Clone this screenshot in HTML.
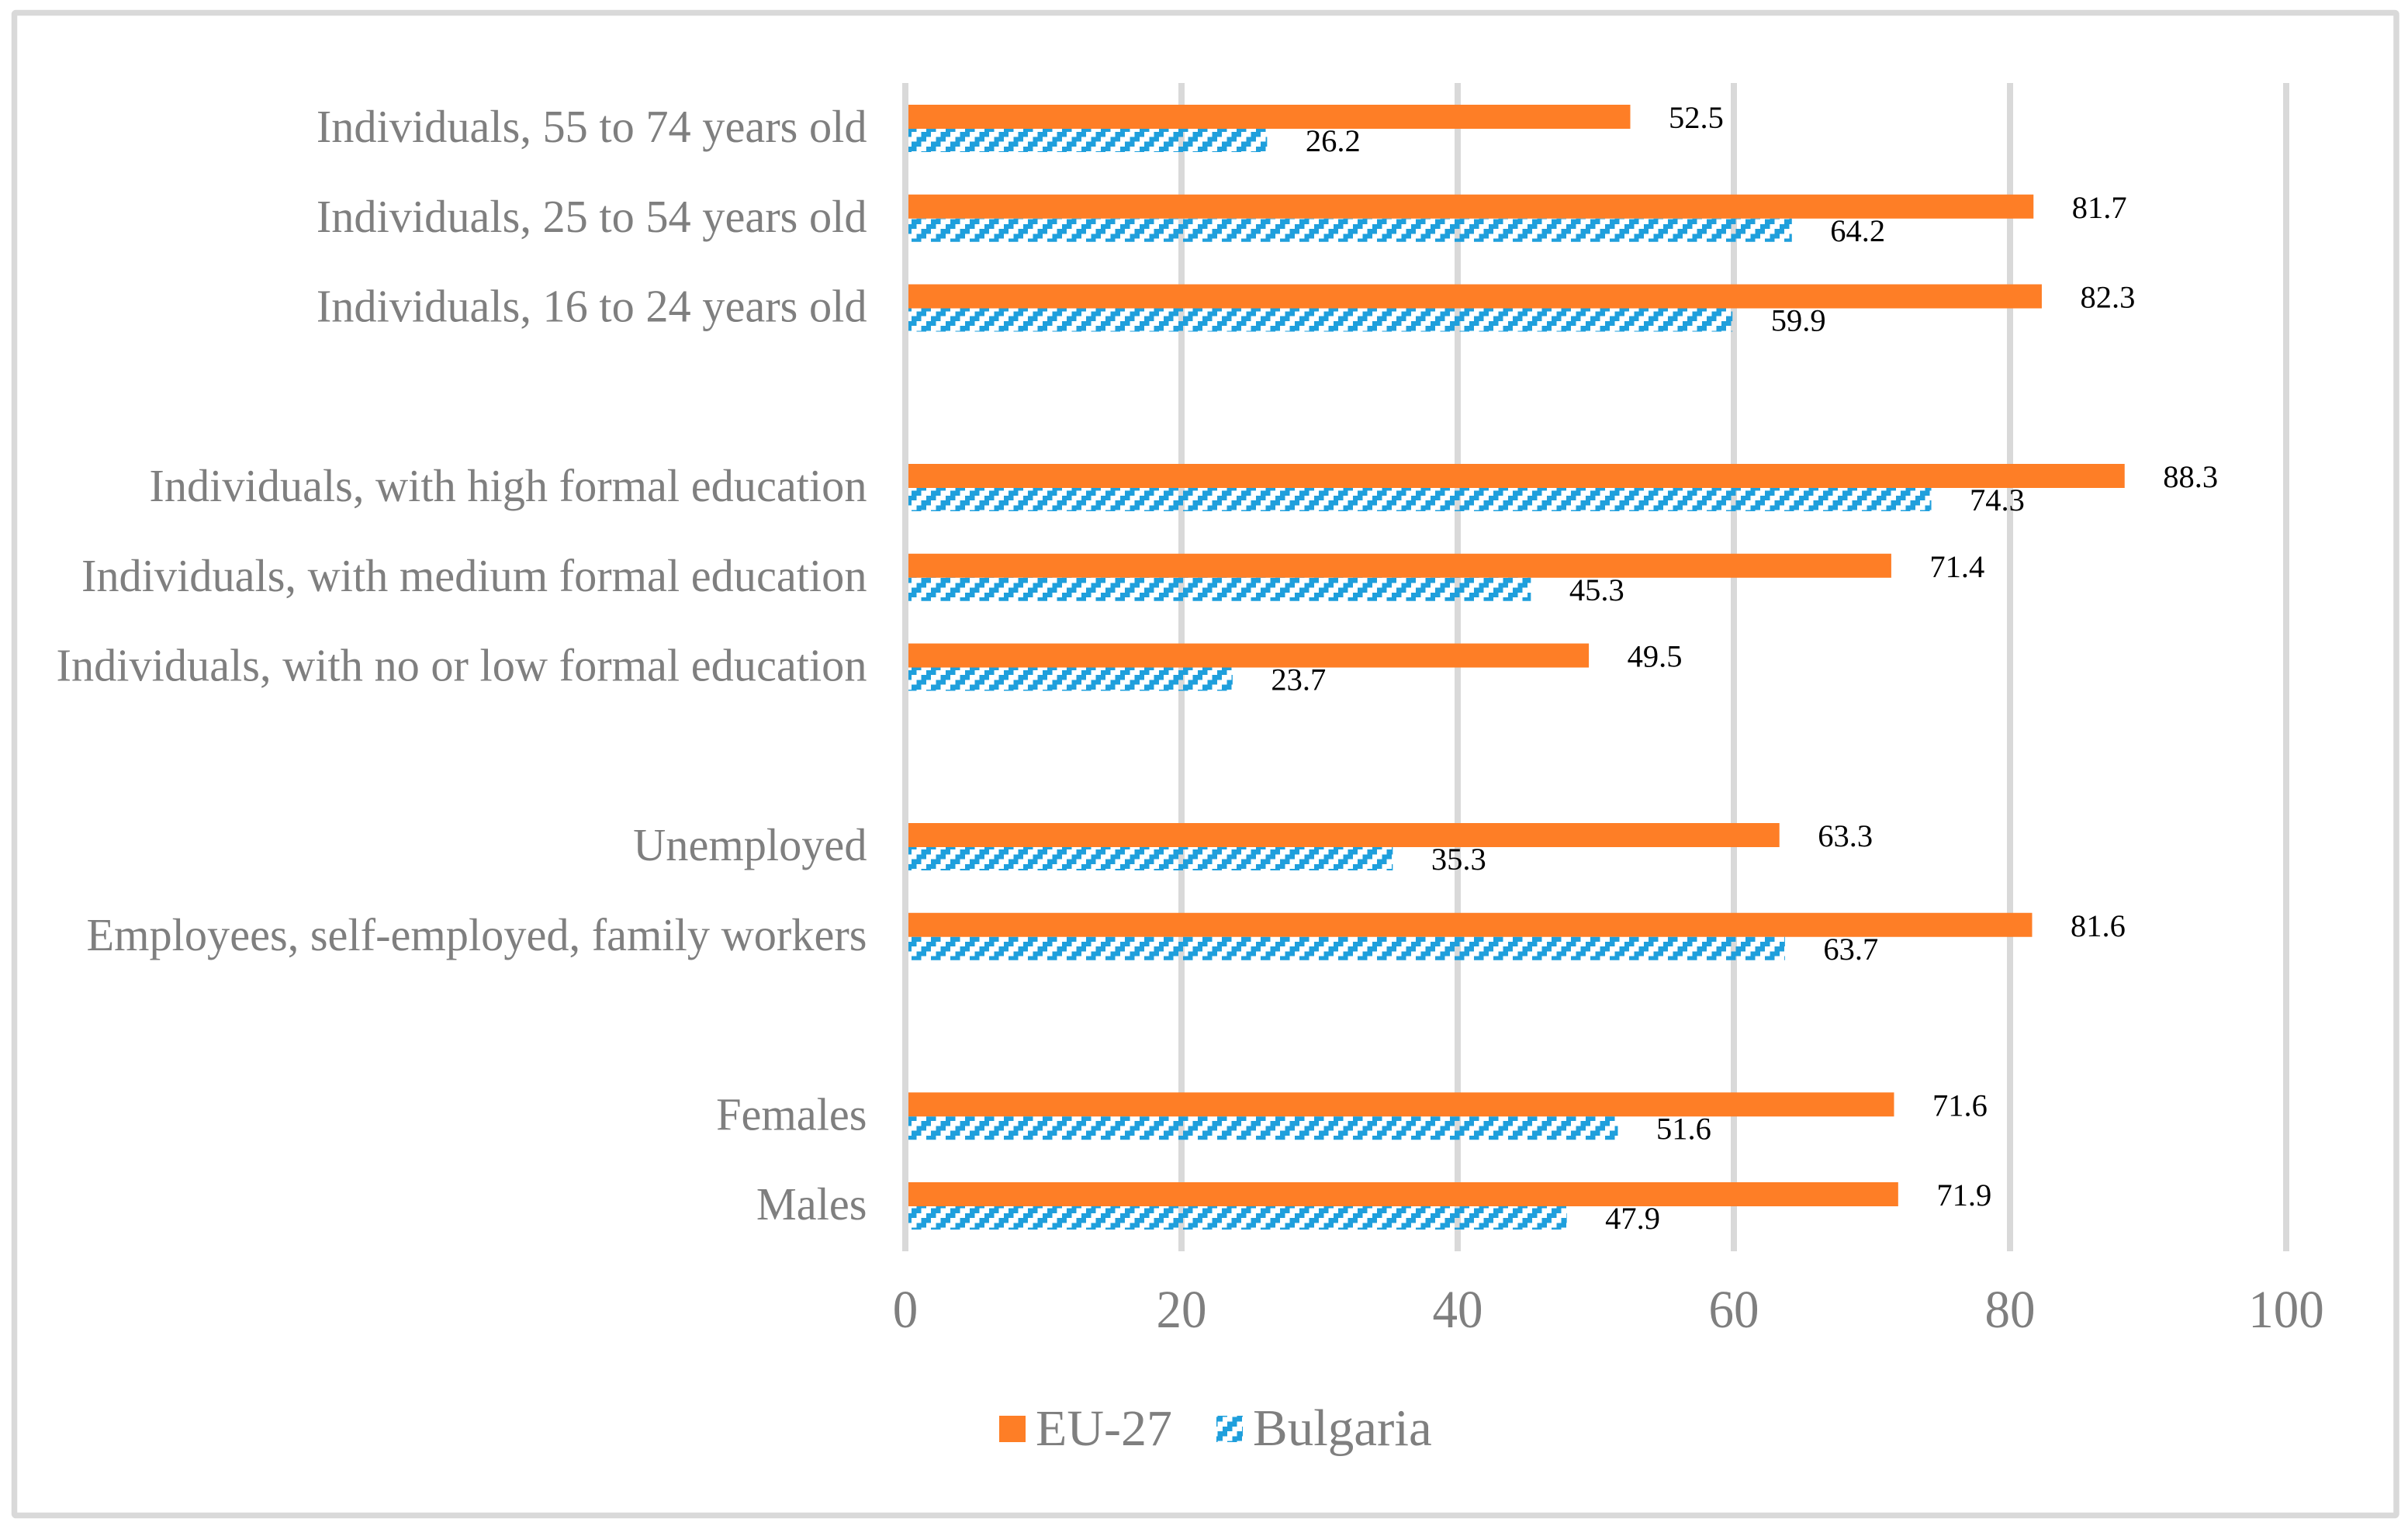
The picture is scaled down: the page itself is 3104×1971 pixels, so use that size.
<!DOCTYPE html>
<html lang="en">
<head>
<meta charset="utf-8">
<title>EU-27 and Bulgaria by individual group</title>
<style>
  html, body { margin: 0; padding: 0; background: #fff; }
  svg { display: block; }
  text { font-family: "Liberation Serif", serif; }
</style>
</head>
<body>
<svg id="chart" xmlns="http://www.w3.org/2000/svg" width="3104" height="1971" viewBox="0 0 3104 1971">
  <defs>
    <pattern id="hatch" patternUnits="userSpaceOnUse" x="0" y="7.5" width="25" height="25" shape-rendering="crispEdges">
      <rect x="0" y="0" width="12.5" height="6.25" fill="#1F9FDC"/>
      <rect x="18.75" y="6.25" width="6.25" height="6.25" fill="#1F9FDC"/>
      <rect x="0" y="6.25" width="6.25" height="6.25" fill="#1F9FDC"/>
      <rect x="12.5" y="12.5" width="12.5" height="6.25" fill="#1F9FDC"/>
      <rect x="6.25" y="18.75" width="12.5" height="6.25" fill="#1F9FDC"/>
    </pattern>
    <pattern id="hatch-legend" patternUnits="userSpaceOnUse" x="7" y="7.5" width="25" height="25" shape-rendering="crispEdges">
      <rect x="0" y="0" width="12.5" height="6.25" fill="#1F9FDC"/>
      <rect x="18.75" y="6.25" width="6.25" height="6.25" fill="#1F9FDC"/>
      <rect x="0" y="6.25" width="6.25" height="6.25" fill="#1F9FDC"/>
      <rect x="12.5" y="12.5" width="12.5" height="6.25" fill="#1F9FDC"/>
      <rect x="6.25" y="18.75" width="12.5" height="6.25" fill="#1F9FDC"/>
    </pattern>
  </defs>
  <rect x="18.5" y="16.5" width="3070.5" height="1937" rx="2" fill="#fff" stroke="#D9D9D9" stroke-width="7.5"/>
  <g id="grid"></g>
  <g id="bars"></g>
  <g id="axis"></g>
  <g id="cats"></g>
  <g id="vals"></g>
  <g id="ticks"></g>
  <g>
    <g>
      <rect x="1288" y="1825" width="34" height="34" fill="#FE7E26"/>
      <text x="1335" y="1863" font-size="66" fill="#7F7F7F">EU-27</text>
    </g>
    <g>
      <rect x="1568" y="1825" width="34" height="34" fill="url(#hatch-legend)"/>
      <text x="1615" y="1863" font-size="67" fill="#7F7F7F">Bulgaria</text>
    </g>
  </g>
</svg>
<script>
// Rows listed bottom to top; empty strings are the spacer rows between groups.
const categories = ["Males", "Females", "", "Employees, self-employed, family workers", "Unemployed", "", "Individuals, with no or low formal education", "Individuals, with medium formal education", "Individuals, with high formal education", "", "Individuals, 16 to 24 years old", "Individuals, 25 to 54 years old", "Individuals, 55 to 74 years old"];
const euValues = [71.9, 71.6, null, 81.6, 63.3, null, 49.5, 71.4, 88.3, null, 82.3, 81.7, 52.5];
const bgValues = [47.9, 51.6, null, 63.7, 35.3, null, 23.7, 45.3, 74.3, null, 59.9, 64.2, 26.2];
const xTicks = [0, 20, 40, 60, 80, 100];

const NS = "http://www.w3.org/2000/svg";
function x(v) { return 1167 + v * 17.8; }
function rowY(i) { return 1555 - i * 115.75; }
function make(tag, attrs, parent, txt) {
  const el = document.createElementNS(NS, tag);
  for (const k in attrs) el.setAttribute(k, attrs[k]);
  if (txt !== undefined) el.textContent = txt;
  parent.appendChild(el);
  return el;
}
const gGrid = document.getElementById("grid");
const gBars = document.getElementById("bars");
const gAxis = document.getElementById("axis");
const gCats = document.getElementById("cats");
const gVals = document.getElementById("vals");
const gTicks = document.getElementById("ticks");

xTicks.forEach(function (t) {
  const parent = t === 0 ? gAxis : gGrid;
  const line = make("rect", { x: x(t) - 4, y: 107, width: 8, height: 1506, fill: "#D9D9D9" }, parent);
  
  
  const label = make("text", { transform: "translate(" + x(t) + " 1711) scale(1 1.06)", "font-size": 65, fill: "#7F7F7F", "text-anchor": "middle" }, gTicks, String(t));
  
  
});

categories.forEach(function (name, i) {
  if (!name) return;
  const c = rowY(i);
  const cat = make("text", { transform: "translate(1117.5 " + (c + 17) + ") scale(1 1.02)", "font-size": 58.35, fill: "#7F7F7F", "text-anchor": "end" }, gCats, name);
  
  

  const eu = make("rect", { x: x(0), y: c - 31, width: x(euValues[i]) - x(0), height: 31, fill: "#FE7E26" }, gBars);
  
  

  const bg = make("rect", { x: x(0), y: c, width: x(bgValues[i]) - x(0), height: 30, fill: "url(#hatch)" }, gBars);
  
  

  const euText = make("text", { x: x(euValues[i]) + 49.5, y: c - 1, "font-size": 40.5, fill: "#000" }, gVals, euValues[i].toFixed(1));
  
  

  const bgText = make("text", { x: x(bgValues[i]) + 49.5, y: c + 29, "font-size": 40.5, fill: "#000" }, gVals, bgValues[i].toFixed(1));
  
  
});
</script>
</body>
</html>
